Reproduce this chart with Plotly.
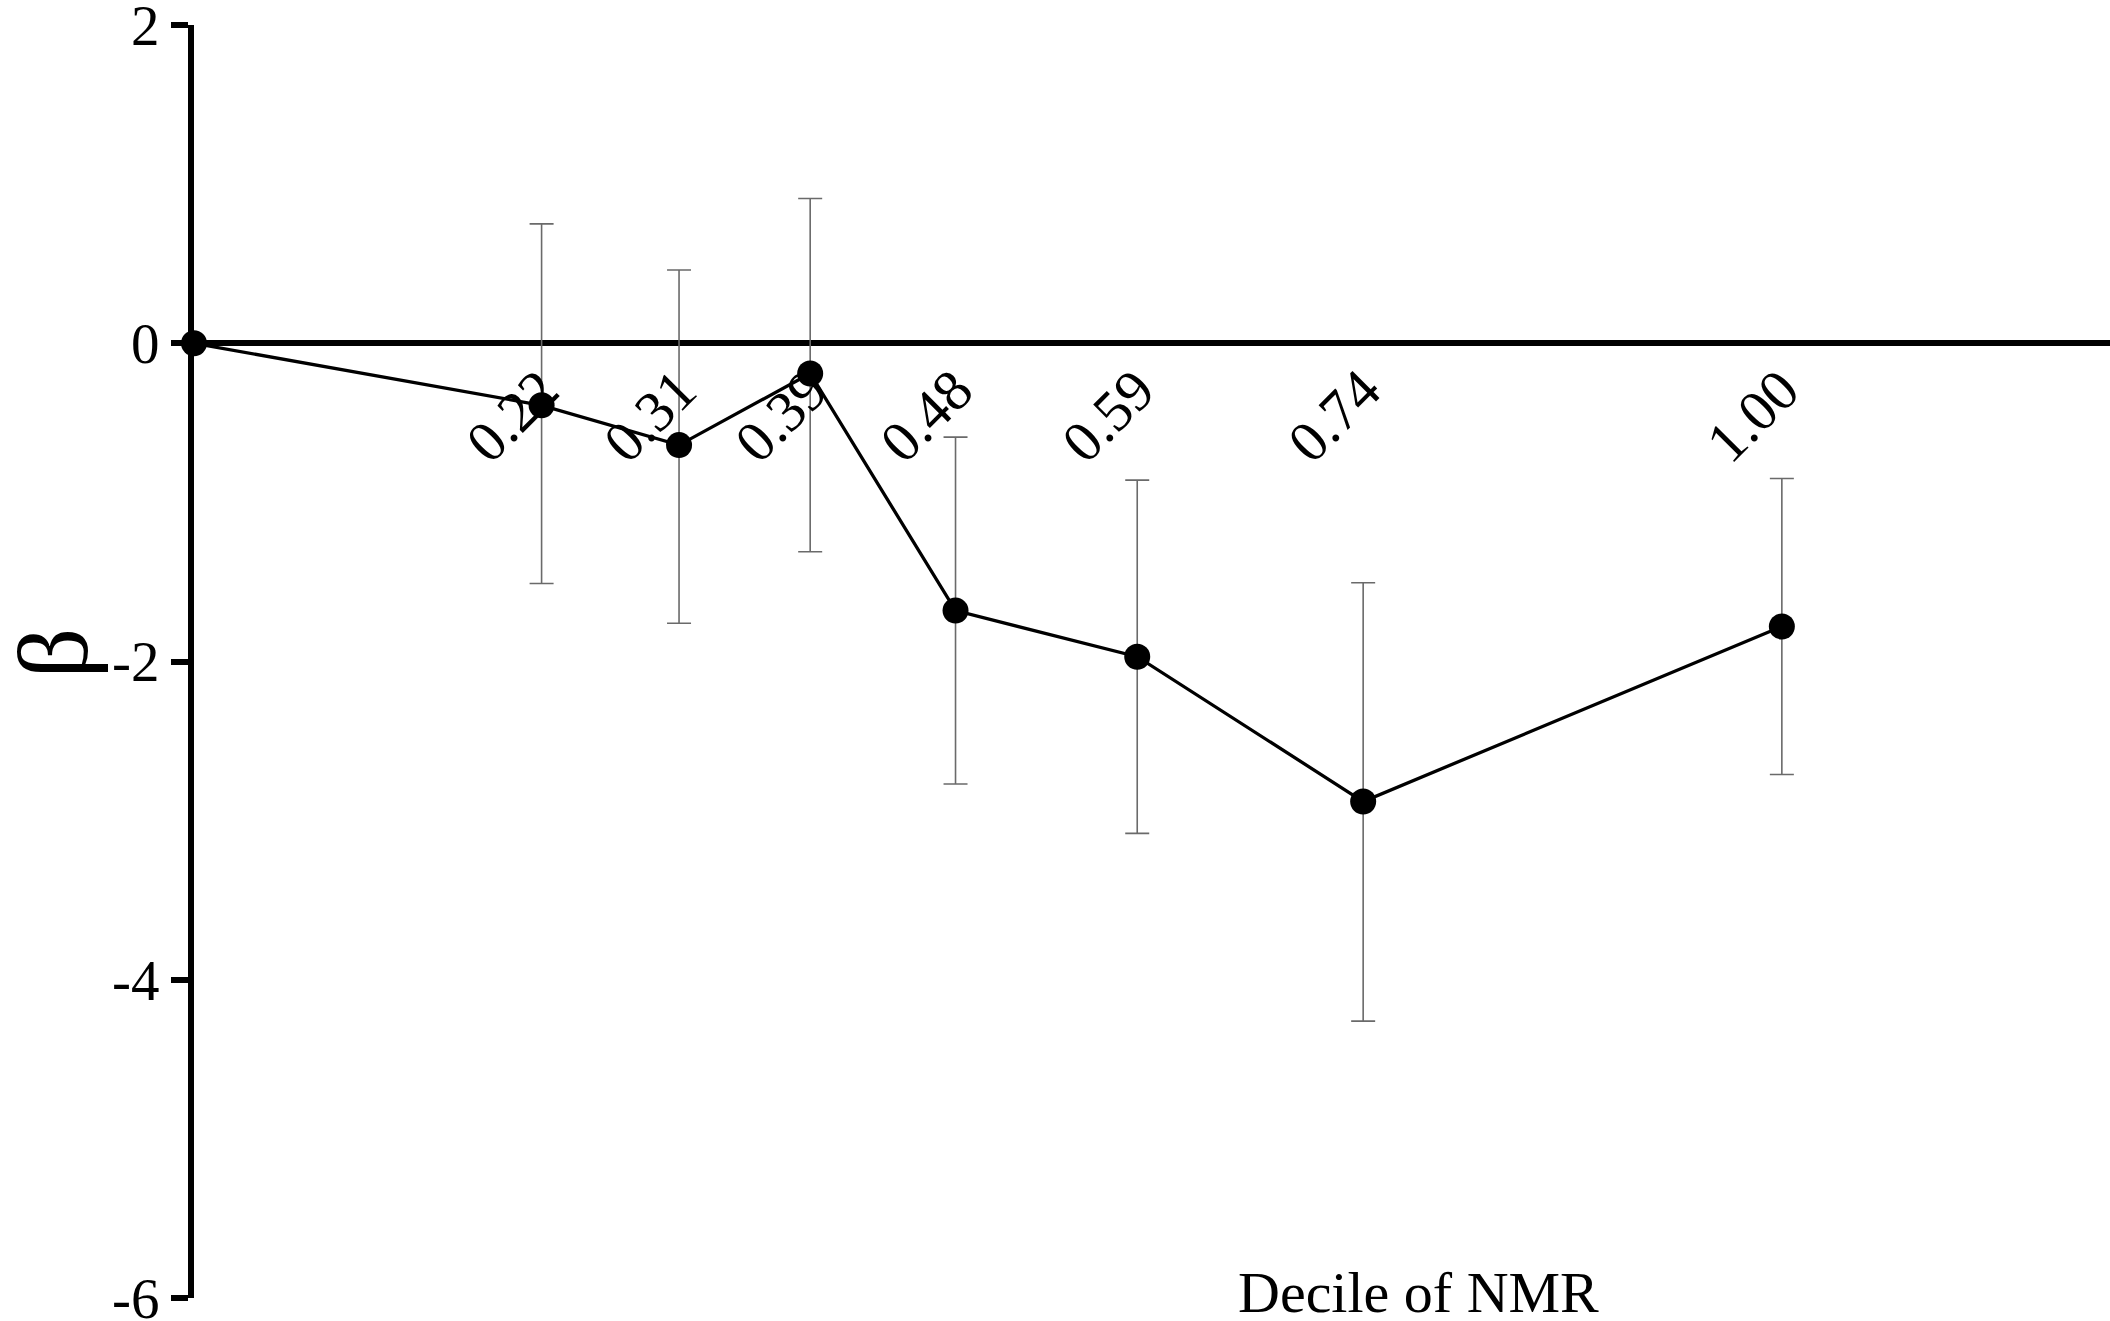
import plotly.graph_objects as go

# Data
x_pos = [0, 0.22, 0.307, 0.39, 0.482, 0.597, 0.74, 1.005]
tick_labels = ["", "0.22", "0.31", "0.39", "0.48", "0.59", "0.74", "1.00"]
beta = [0, -0.39, -0.64, -0.19, -1.68, -1.97, -2.88, -1.78]
ci_upper = [None, 0.75, 0.46, 0.91, -0.59, -0.86, -1.505, -0.85]
ci_lower = [None, -1.51, -1.76, -1.31, -2.77, -3.08, -4.26, -2.71]
y_ticks = [-6, -4, -2, 0, 2]

FONT = "Liberation Serif, Times New Roman, serif"

eb_x = [x for x, u in zip(x_pos, ci_upper) if u is not None]
eb_y = [b for b, u in zip(beta, ci_upper) if u is not None]
eb_plus = [u - b for b, u in zip(beta, ci_upper) if u is not None]
eb_minus = [b - l for b, l in zip(beta, ci_lower) if l is not None]

fig = go.Figure()
fig.add_trace(go.Scatter(
    x=eb_x, y=eb_y, mode="markers",
    marker=dict(size=1, color="rgba(0,0,0,0)"),
    error_y=dict(type="data", symmetric=False, array=eb_plus, arrayminus=eb_minus,
                 color="#6a6a6a", thickness=1.6, width=12),
    showlegend=False, hoverinfo="skip", cliponaxis=False,
))
fig.add_trace(go.Scatter(
    x=x_pos, y=beta, mode="lines+markers",
    line=dict(color="black", width=3.3),
    marker=dict(size=26, color="black"),
    showlegend=False, cliponaxis=False,
))

fig.update_layout(
    width=2110, height=1321,
    margin=dict(l=194, r=0, t=25, b=23, autoexpand=False),
    paper_bgcolor="white", plot_bgcolor="white",
    font=dict(family=FONT, color="black"),
    xaxis=dict(
        range=[0, 1.2127], showgrid=False, zeroline=False, showline=False,
        tickmode="array", tickvals=x_pos[1:], ticktext=tick_labels[1:],
        tickangle=-45, ticks="", tickfont=dict(size=58, family=FONT, color="black"),
        anchor="free", position=0.75, automargin=False,
    ),
    yaxis=dict(
        range=[-6, 2], showgrid=False,
        zeroline=True, zerolinewidth=6, zerolinecolor="black",
        showline=True, linewidth=6, linecolor="black",
        ticks="outside", ticklen=17, tickwidth=6, tickcolor="black",
        tickmode="array", tickvals=y_ticks, ticktext=[str(v) for v in y_ticks],
        tickfont=dict(size=57, family=FONT, color="black"),
        ticklabeloverflow="allow", automargin=False,
    ),
    annotations=[
        dict(text="β", xref="paper", yref="paper", x=0, y=0.5, xshift=-141, yshift=8,
             textangle=-90, showarrow=False, xanchor="center", yanchor="middle",
             font=dict(size=100, family=FONT, color="black")),
        dict(text="Decile of NMR", xref="paper", yref="paper", x=0.639, y=0.004,
             showarrow=False, xanchor="center", yanchor="middle",
             font=dict(size=58, family=FONT, color="black")),
    ],
)

# remove the default 8px page margin so the figure fills the window exactly
fig.write_html("out.html", config={"displayModeBar": False},
               post_script="document.body.style.margin='0';")
